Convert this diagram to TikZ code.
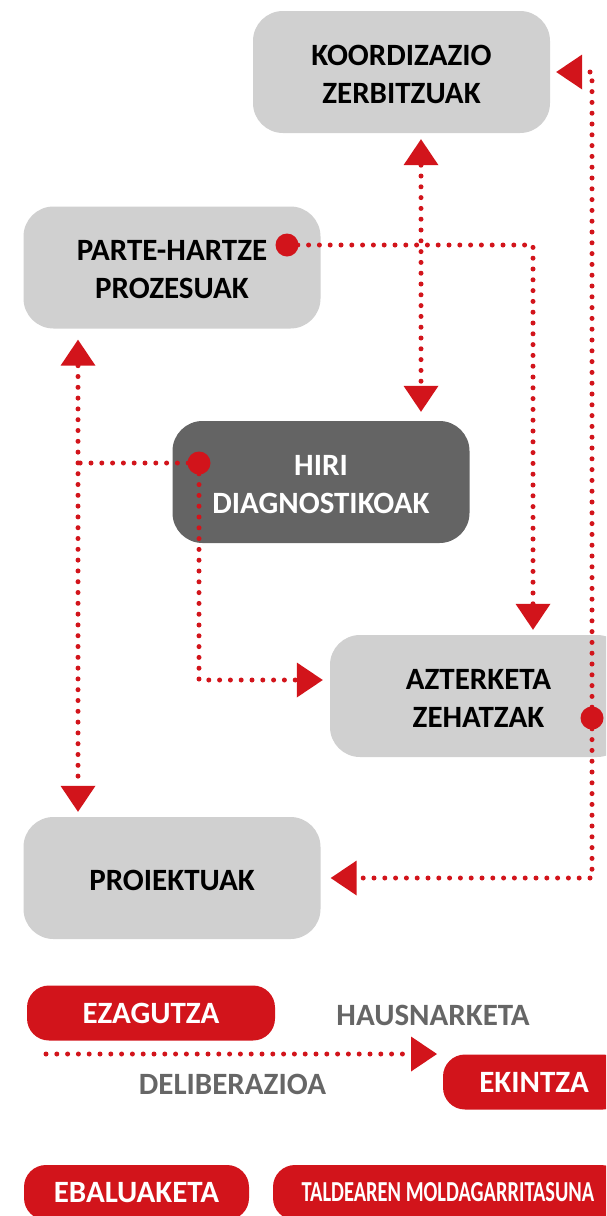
\documentclass[tikz,border=0pt]{standalone}
\usepackage{fontspec}
\usepackage{graphicx}
\setmainfont{Carlito}
\usetikzlibrary{arrows.meta}
\definecolor{myred}{HTML}{D2141B}
\definecolor{boxgray}{HTML}{D0D0D0}
\definecolor{darkbox}{HTML}{646464}
\definecolor{txtgray}{HTML}{666666}
\begin{document}
\begin{tikzpicture}[x=1pt,y=-1pt,
  bigbox/.style={rectangle, rounded corners=30pt, minimum width=297pt, minimum height=122pt, fill=boxgray, inner sep=0pt},
  boxtext/.style={inner sep=0pt, align=center, font=\fontsize{31}{38}\selectfont\bfseries, text=black, yshift=-2.5pt},
  legbox/.style={rectangle, rounded corners=22pt, minimum height=55pt, fill=myred, inner sep=0pt, text=white, font=\fontsize{31}{38}\selectfont\bfseries},
  legtext/.style={inner sep=0pt, text=txtgray, font=\fontsize{31}{38}\selectfont\bfseries},
  flow/.style={draw=myred, line width=5pt, line cap=round, dash pattern=on 0pt off 10.8pt},
  tipend/.style={-{Triangle[length=26pt,width=35pt,line width=0pt]}},
  tipboth/.style={{Triangle[length=26pt,width=35pt,line width=0pt]}-{Triangle[length=26pt,width=35pt,line width=0pt]}},
  reddot/.style={circle, fill=myred, minimum size=23pt, inner sep=0pt}
]
\useasboundingbox (0,0) rectangle (606,1216);
\clip (0,0) rectangle (606,1216);

% main boxes
\node[bigbox] (koord) at (401.5,72) {};
\node[bigbox] (parte) at (172,267.5) {};
\node[bigbox, fill=darkbox] (hiri) at (321,482) {};
\node[bigbox] (azt) at (478.5,696) {};
\node[bigbox] (proi) at (172,878) {};
\node[boxtext] (koordt) at (koord) {KOORDIZAZIO\\ZERBITZUAK};
\node[boxtext] (partet) at (parte) {PARTE-HARTZE\\PROZESUAK};
\node[boxtext, text=white] (hirit) at (hiri) {HIRI\\DIAGNOSTIKOAK};
\node[boxtext] (aztt) at (azt) {AZTERKETA\\ZEHATZAK};
\node[boxtext] (proit) at (proi) {PROIEKTUAK};

% helper coordinates
\coordinate (c1) at (421,0);
\coordinate (c2) at (533,0);
\coordinate (c3) at (78,0);
\coordinate (c4) at (0,680);

% dot positions
\coordinate (p1) at (287,245);
\coordinate (p2) at (199,463);
\coordinate (p3) at (592,718);

% connectors
\draw[flow, tipboth, shorten <=6pt, shorten >=9pt] (koord.south -| c1) -- (hiri.north -| c1);
\draw[flow, tipend, shorten >=5pt] (p1) -- (p1 -| c2) -- (azt.north -| c2);
\draw[flow] (p2) -- (p2 -| c3);
\draw[flow, tipboth, shorten <=11pt, shorten >=5pt] (parte.south -| c3) -- (proi.north -| c3);
\draw[flow, tipend, shorten >=7pt] (p2) -- (p2 |- c4) -- (azt.west |- c4);
\draw[flow, tipend, shorten >=6pt] (p3) -- (p3 |- koord.east) -- (koord.east);
\draw[flow, tipend, shorten >=10pt] (p3) -- (p3 |- proi.east) -- (proi.east);

% red dots
\node[reddot] (d1) at (p1) {};
\node[reddot] (d2) at (p2) {};
\node[reddot] (d3) at (p3) {};

% legend
\node[legbox, minimum width=248pt] (ezag) at (151,1013) {EZAGUTZA};
\node[legtext] (hausn) at (433,1015) {HAUSNARKETA};
\node[legtext] (delib) at (232.5,1084) {DELIBERAZIOA};
\node[legbox, minimum width=182pt] (ekin) at (534,1082) {EKINTZA};
\node[legbox, minimum width=225pt] (ebal) at (136.5,1192.5) {EBALUAKETA};
\node[legbox, minimum width=350pt, font=\fontsize{29}{36}\selectfont\bfseries] (tald) at (448,1192.5) {\scalebox{0.705}[1]{TALDEAREN MOLDAGARRITASUNA}};
\coordinate (l1) at (46,1054);
\coordinate (l2) at (437,1054);
\draw[flow, tipend] (l1) -- (l2);
\end{tikzpicture}
\end{document}
